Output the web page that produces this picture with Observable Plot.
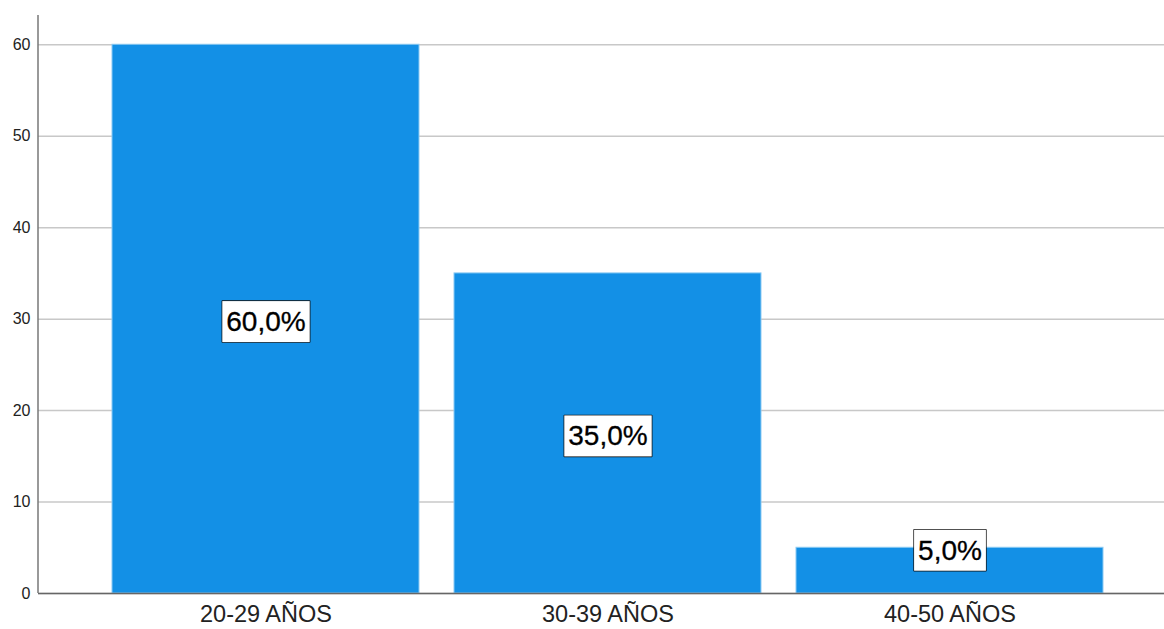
<!DOCTYPE html>
<html>
<head>
<meta charset="utf-8">
<script src="https://cdn.jsdelivr.net/npm/d3@7"></script>
<script src="https://cdn.jsdelivr.net/npm/@observablehq/plot@0.6"></script>
<style>
  body { margin: 0; background: #fff; }
  #chart svg { display: block; }
</style>
</head>
<body>
<div id="chart"></div>
<script>
// Age groups and their share of respondents (percent)
const groups = ["20-29 AÑOS", "30-39 AÑOS", "40-50 AÑOS"];
const percents = [60, 35, 5];
const yTicks = [0, 10, 20, 30, 40, 50, 60];

const data = groups.map((g, i) => ({group: g, value: percents[i]}));
const fmt = v => v.toFixed(1).replace(".", ",") + "%";

// Left axis line spanning the full plot height
const leftAxisLine = (index, scales, values, dim) => {
  const x = dim.marginLeft;
  return d3.create("svg:line")
    .attr("x1", x).attr("x2", x)
    .attr("y1", dim.marginTop).attr("y2", dim.height - dim.marginBottom)
    .attr("stroke", "#777").attr("stroke-width", 1.5)
    .node();
};

const chart = Plot.plot({
  width: 1164,
  height: 629,
  marginLeft: 38,
  marginRight: 0,
  marginTop: 15,
  marginBottom: 36,
  style: {fontFamily: "'Liberation Sans', Arial, sans-serif", background: "#fff", color: "#222"},
  x: {domain: groups, paddingInner: 0.103, paddingOuter: 0.197, align: 0.548, label: null},
  y: {domain: [0, 63.2], label: null},
  marks: [
    Plot.gridY(yTicks, {stroke: "#c8c8c8", strokeOpacity: 1, strokeWidth: 1.5}),
    Plot.barY(data, {x: "group", y: "value", fill: "#1390e6", stroke: "#8ccaf3", strokeWidth: 1}),
    Plot.axisY({ticks: yTicks, tickSize: 0, tickPadding: 8, fontSize: 16, fill: "#222"}),
    Plot.axisX({tickSize: 0, tickPadding: 12, fontSize: 23.5, fill: "#222"}),
    Plot.ruleY([0], {stroke: "#666", strokeWidth: 1.5}),
    leftAxisLine,
    Plot.text(data, {
      x: "group",
      y: d => d.value < 10 ? d.value : d.value / 2,
      text: d => fmt(d.value),
      fontSize: 28,
      dy: 3,
      fill: "#000",
      stroke: "#000",
      strokeWidth: 0.3
    })
  ]
});

document.getElementById("chart").appendChild(chart);

// White boxed backgrounds behind the value labels
d3.select(chart).selectAll('g[aria-label="text"] text').each(function () {
  const b = this.getBBox();
  d3.select(this.parentNode).insert("rect", () => this)
    .attr("transform", this.getAttribute("transform"))
    .attr("x", b.x - 4)
    .attr("y", b.y - 5)
    .attr("width", b.width + 8)
    .attr("height", b.height + 10)
    .attr("fill", "#fff")
    .attr("stroke", "#111")
    .attr("stroke-width", 1.5);
});
</script>
</body>
</html>
